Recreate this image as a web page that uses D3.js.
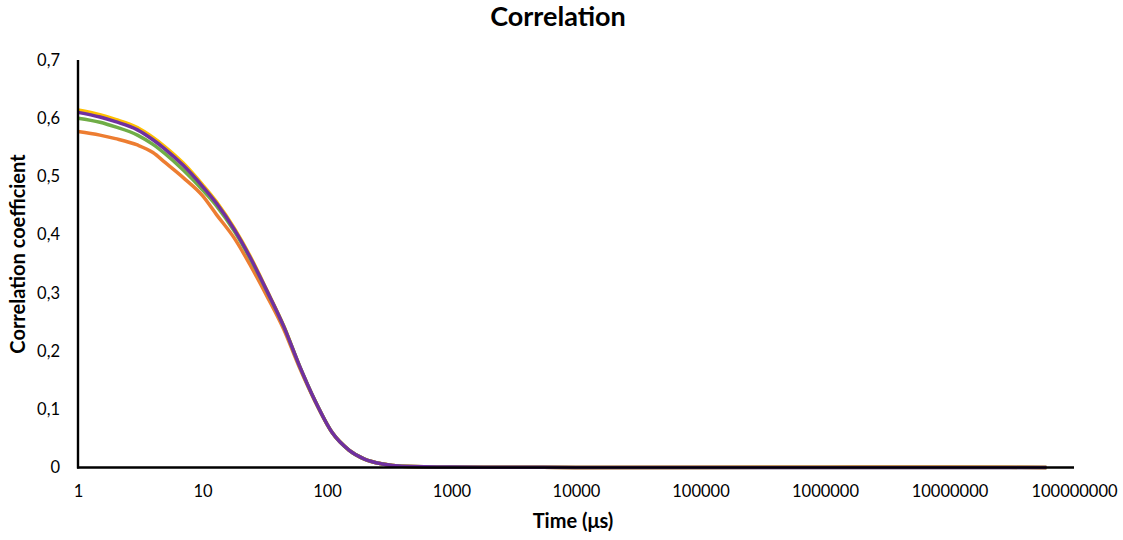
<!DOCTYPE html>
<html>
<head>
<meta charset="utf-8">
<script src="https://cdn.jsdelivr.net/npm/d3@7"></script>
<style>
  html, body { margin: 0; padding: 0; background: #fff; }
  svg { display: block; font-family: Lato, "Open Sans", sans-serif; }
</style>
</head>
<body>
<svg id="chart" width="1123" height="540"></svg>
<script>
// Lag times (µs) shared by all correlation curves
const lagTimes = [1, 1.5, 2, 3, 4, 5, 7, 10, 13, 18, 24, 33, 45, 60, 80, 110, 150, 200, 280, 400, 1000, 3000, 10000, 100000, 1000000, 10000000, 60000000];

// Correlation coefficient for each measurement
const seriesOrange = [0.577, 0.571, 0.565, 0.554, 0.541, 0.524, 0.498, 0.467, 0.434, 0.394, 0.349, 0.294, 0.237, 0.172, 0.114, 0.060, 0.030, 0.0145, 0.006, 0.002, 0.0007, 0.0004, 0.0002, 0.0003, 0.0006, 0.0008, 0];
const seriesYellow = [0.614, 0.606, 0.598, 0.584, 0.567, 0.551, 0.523, 0.486, 0.456, 0.411, 0.364, 0.304, 0.243, 0.175, 0.115, 0.060, 0.030, 0.0145, 0.006, 0.002, 0.0008, 0.0004, 0.0002, 0.0002, 0.0003, 0.0005, 0];
const seriesGreen  = [0.600, 0.593, 0.585, 0.571, 0.555, 0.539, 0.511, 0.477, 0.449, 0.406, 0.360, 0.302, 0.242, 0.175, 0.115, 0.060, 0.030, 0.0145, 0.006, 0.002, 0.0007, 0.0004, 0.0002, 0, 0, 0, 0];
const seriesPurple = [0.610, 0.602, 0.594, 0.580, 0.563, 0.547, 0.519, 0.483, 0.4535, 0.409, 0.362, 0.303, 0.242, 0.175, 0.115, 0.060, 0.030, 0.0145, 0.006, 0.002, 0.0007, 0.0004, 0.0002, 0, 0, 0, 0];

const seriesList = [
  { name: "orange", color: "#ED7D31", values: seriesOrange },
  { name: "yellow", color: "#FFC000", values: seriesYellow },
  { name: "green",  color: "#70AD47", values: seriesGreen },
  { name: "purple", color: "#7030A0", values: seriesPurple }
];

// Axis tick labels
const xTickValues = [1, 10, 100, 1000, 10000, 100000, 1000000, 10000000, 100000000];
const yTickValues = [0, 0.1, 0.2, 0.3, 0.4, 0.5, 0.6, 0.7];

const titleText = "Correlation";
const xTitle = "Time (\u03BCs)";
const yTitle = "Correlation coefficient";

const svg = d3.select("#chart");
const plot = { left: 78, right: 1074, top: 60, bottom: 467.5 };

const x = d3.scaleLog().domain([1, 1e8]).range([plot.left, plot.right]);
const y = d3.scaleLinear().domain([0, 0.7]).range([plot.bottom, plot.top]);

// Curves
const line = d3.line()
  .x((d, i) => x(lagTimes[i]))
  .y(d => y(d))
  .curve(d3.curveMonotoneX);

svg.append("g")
  .selectAll("path")
  .data(seriesList)
  .join("path")
  .attr("fill", "none")
  .attr("stroke", d => d.color)
  .attr("stroke-width", 3.5)
  .attr("stroke-linejoin", "round")
  .attr("stroke-linecap", "butt")
  .attr("d", d => line(d.values));

// X axis
const xAxis = d3.axisBottom(x)
  .tickValues(xTickValues)
  .tickFormat(d3.format("d"))
  .tickSize(0)
  .tickPadding(18);

const gx = svg.append("g")
  .attr("transform", `translate(0,${plot.bottom})`)
  .call(xAxis);
gx.select(".domain").attr("stroke", "#000").attr("stroke-width", 2.4).attr("d", `M${plot.left - 1},0H${plot.right}`);
gx.selectAll("text").attr("font-size", 16.5).attr("fill", "#000").attr("font-family", "Lato, sans-serif");

// Y axis
const yAxis = d3.axisLeft(y)
  .tickValues(yTickValues)
  .tickFormat(d => d === 0 ? "0" : d3.format(".1f")(d).replace(".", ","))
  .tickSize(0)
  .tickPadding(18);

const gy = svg.append("g")
  .attr("transform", `translate(${plot.left},0)`)
  .call(yAxis);
gy.select(".domain").attr("stroke", "#000").attr("stroke-width", 2.4).attr("d", `M0,${plot.top}V${plot.bottom + 1}`);
gy.selectAll("text").attr("font-size", 16.5).attr("fill", "#000").attr("font-family", "Lato, sans-serif");

// Titles
svg.append("text")
  .attr("x", 558).attr("y", 26)
  .attr("text-anchor", "middle")
  .attr("font-size", 27).attr("font-weight", "bold")
  .text(titleText);

svg.append("text")
  .attr("x", 573).attr("y", 528)
  .attr("text-anchor", "middle")
  .attr("font-size", 20).attr("font-weight", "bold")
  .text(xTitle);

svg.append("text")
  .attr("transform", "translate(25,254) rotate(-90)")
  .attr("text-anchor", "middle")
  .attr("font-size", 20).attr("font-weight", "bold")
  .text(yTitle);
</script>
</body>
</html>
